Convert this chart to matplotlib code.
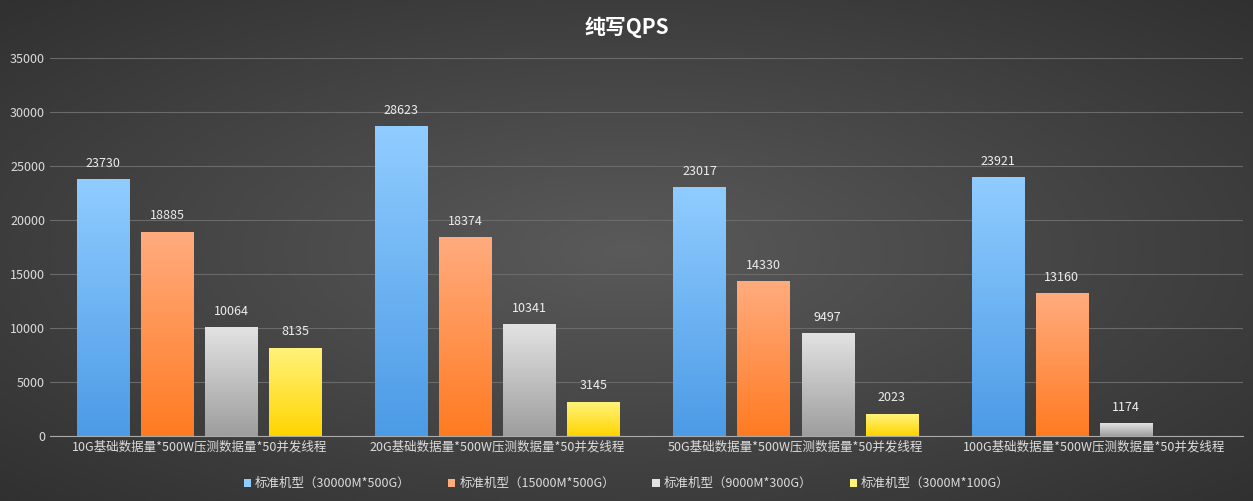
import numpy as np
import matplotlib.pyplot as plt
from matplotlib.colors import LinearSegmentedColormap

plt.rcParams['font.family'] = ['Noto Sans CJK SC', 'DejaVu Sans']

categories = ['10G基础数据量*500W压测数据量*50并发线程', '20G基础数据量*500W压测数据量*50并发线程',
              '50G基础数据量*500W压测数据量*50并发线程', '100G基础数据量*500W压测数据量*50并发线程']
series_names = ['标准机型（30000M*500G）', '标准机型（15000M*500G）', '标准机型（9000M*300G）', '标准机型（3000M*100G）']
values = [
    [23730, 28623, 23017, 23921],
    [18885, 18374, 14330, 13160],
    [10064, 10341, 9497, 1174],
    [8135, 3145, 2023, np.nan],
]
grads = [('#90CCFF', '#4C9BE6'), ('#FFAB7E', '#FF7B22'), ('#E2E2E2', '#9E9E9E'), ('#FFF27A', '#FFD500')]

fig = plt.figure(figsize=(12.53, 5.01), dpi=100)
bg = fig.add_axes([0, 0, 1, 1])
yy, xx = np.mgrid[-1:1:200j, -1:1:400j]
r = np.sqrt(xx**2 + yy**2)
bg.imshow(r, cmap=LinearSegmentedColormap.from_list('bg', ['#5a5a5a', '#2e2e2e']),
          aspect='auto', extent=[0, 1, 0, 1], vmin=0, vmax=1.5)
bg.axis('off')

ax = fig.add_axes([50 / 1253, 65 / 501, 1193 / 1253, 378 / 501])
ax.patch.set_alpha(0)
ax.set_xlim(-0.5, 3.5)
ax.set_ylim(0, 35000)
w = 0.175
step = 0.215
x = np.arange(len(categories))
for i, (vals, (c1, c2)) in enumerate(zip(values, grads)):
    cmap = LinearSegmentedColormap.from_list('g%d' % i, [c2, c1])
    off = (i - 1.5) * step
    for xi, v in zip(x, vals):
        if np.isnan(v):
            continue
        x0 = xi + off - w / 2
        ax.imshow(np.linspace(0, 1, 100).reshape(-1, 1), cmap=cmap, origin='lower',
                  extent=[x0, x0 + w, 0, v], aspect='auto', zorder=2)
        ax.text(xi + off, v + 900, '%d' % v, ha='center', va='bottom', color='#eeeeee', fontsize=9)
    ax.bar([0], [0], color=c1, label=series_names[i])
ax.set_xlim(-0.5, 3.5)
ax.set_ylim(0, 35000)
ax.set_yticks(range(0, 35001, 5000))
ax.set_xticks(x)
ax.set_xticklabels(categories)
ax.tick_params(colors='#dddddd', labelsize=9, length=0)
ax.grid(axis='y', color='#6a6a6a', lw=0.8, zorder=0)
ax.set_axisbelow(True)
for s in ['top', 'right', 'left']:
    ax.spines[s].set_visible(False)
ax.spines['bottom'].set_color('#aaaaaa')
fig.text(0.5, 0.945, '纯写QPS', ha='center', va='center', color='white', fontsize=15, fontweight='bold')
leg = fig.legend(loc='center', bbox_to_anchor=(0.5, 0.035), ncol=4, frameon=False,
                 fontsize=9, labelcolor='#dddddd', handlelength=0.6, handleheight=0.6,
                 columnspacing=3, handletextpad=0.3)
fig.savefig('out.png', dpi=100)
